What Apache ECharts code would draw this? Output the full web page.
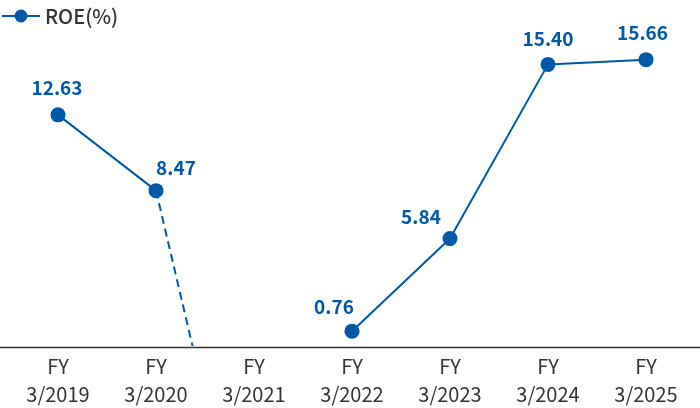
<!DOCTYPE html>
<html><head><meta charset="utf-8">
<script src="https://cdn.jsdelivr.net/npm/echarts@6/dist/echarts.min.js"></script>
<style>html,body{margin:0;padding:0;background:#fff}#c{width:700px;height:408px}</style>
</head><body><div id="c"></div>
<script>
const categories = ['FY\n3/2019','FY\n3/2020','FY\n3/2021','FY\n3/2022','FY\n3/2023','FY\n3/2024','FY\n3/2025'];
const roe = [12.63, 8.47, null, 0.76, 5.84, 15.40, 15.66];
// FY3/2021 was negative (below axis); only the falling dashed segment is visible
const roeDashed = [null, 8.47, -14.4, null, null, null, null];
const seriesName = 'ROE(%)';

const blue = '#0058a9';
const font = '"Noto Sans CJK JP", "Noto Sans", sans-serif';
const labelOffsets = [[-1,0],[20,4],[0,0],[-18,3],[-29,5.5],[0,1.5],[-3.5,0]];

const chart = echarts.init(document.getElementById('c'));
chart.setOption({
  animation: false,
  textStyle: { fontFamily: font },
  legend: {
    data: [seriesName], left: -4, top: 1, itemWidth: 38, itemHeight: 16, itemGap: 10,
    textStyle: { color: '#333', fontSize: 20, fontWeight: 500, fontFamily: font }
  },
  grid: [
    { left: 9, right: 5, top: 17, bottom: 60 },
    { left: 0, right: 0, top: 17, bottom: 61 }
  ],
  xAxis: [
    { type: 'category', data: categories, boundaryGap: true, gridIndex: 0,
      axisLine: { show: false }, axisTick: { show: false },
      axisLabel: { color: '#333', fontSize: 20, lineHeight: 28, margin: 7, fontFamily: font, interval: 0 } },
    { type: 'category', data: categories, gridIndex: 1,
      axisLine: { show: true, lineStyle: { color: '#333', width: 1.3 } },
      axisTick: { show: false }, axisLabel: { show: false } }
  ],
  yAxis: [
    { type: 'value', min: 0, max: 18, show: false, gridIndex: 0 },
    { type: 'value', min: 0, max: 18, show: false, gridIndex: 1 }
  ],
  series: [
    { name: 'dash', type: 'line', data: roeDashed, symbol: 'none', clip: true, z: 2,
      lineStyle: { color: blue, width: 2, type: [8, 5] }, silent: true },
    { name: seriesName, type: 'line', z: 3, connectNulls: false,
      data: roe.map((v, i) => ({ value: v, label: { offset: labelOffsets[i] } })),
      symbol: 'circle', symbolSize: 15, itemStyle: { color: blue },
      lineStyle: { color: blue, width: 2 },
      label: { show: true, position: 'top', distance: 10, color: blue, fontSize: 19,
               fontWeight: 'bold', fontFamily: font, formatter: p => p.value == null ? '' : p.value.toFixed(2) } }
  ]
});
</script></body></html>
